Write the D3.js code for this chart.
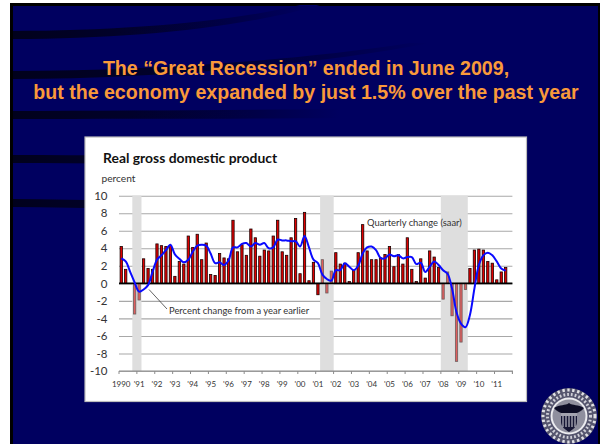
<!DOCTYPE html>
<html>
<head>
<meta charset="utf-8">
<script src="https://cdn.jsdelivr.net/npm/d3@7"></script>
<style>
html,body{margin:0;padding:0;background:#fff;}
svg{display:block;}
</style>
</head>
<body>
<svg id="slide" width="600" height="444"></svg>
<script>
// Quarterly GDP growth, saar, 1990Q1 to 2011Q3
const quarterly = [
  4.2,1.6,0.0,-3.5, -1.9,2.8,1.7,1.6, 4.5,4.3,4.2,4.3, 0.8,2.5,2.2,5.4,
  4.1,5.6,2.7,4.6, 1.0,0.9,3.4,2.9, 2.8,7.2,3.6,4.4, 3.2,6.2,5.2,3.1,
  3.8,3.7,5.4,7.2, 3.6,3.2,5.2,7.4, 1.1,8.1,0.3,2.4, -1.3,2.7,-1.1,1.4,
  3.5,2.2,2.3,0.2, 1.5,3.5,6.7,3.7, 2.7,2.7,2.9,3.3, 4.2,1.9,3.3,2.2,
  5.2,1.6,0.2,2.8, 0.6,3.7,3.0,1.8, -1.8,1.3,-3.7,-8.9, -6.7,-0.7,1.7,3.8,
  3.9,3.8,2.5,2.3, 0.4,1.3,1.8
];
// Percent change from a year earlier, same quarters
const yearOverYear = [
  2.85,2.5,1.3,0.1, -0.95,-0.7,-0.2,1.3, 2.7,3.2,3.8,4.4, 3.3,2.8,2.4,2.7,
  3.6,4.3,4.4,4.3, 3.4,2.3,2.4,2.1, 2.6,4.1,4.1,4.5, 4.6,4.2,4.6,4.4,
  4.6,4.0,4.1,5.0, 4.9,4.9,4.8,4.8, 4.2,5.4,4.1,2.7, 2.3,1.0,0.5,0.3,
  1.5,1.5,2.3,1.9, 1.5,2.0,3.4,4.1, 4.2,3.8,2.9,2.85, 3.3,3.1,3.2,2.85,
  3.0,3.0,2.2,2.35, 1.3,1.9,2.5,2.1, 1.5,1.1,-0.6,-3.3, -4.6,-5.0,-3.6,-0.6,
  2.1,3.2,3.5,3.2, 2.5,1.7,1.45
];
const years = d3.range(1990, 2012);
const quarterNames = years.flatMap(y => [1,2,3,4].map(q => y + "Q" + q));
const yearLabels = ["1990","'91","'92","'93","'94","'95","'96","'97","'98","'99","'00","'01","'02","'03","'04","'05","'06","'07","'08","'09","'10","'11"];
const recessions = [["1990Q4","1991Q1"],["2001Q2","2001Q4"],["2008Q1","2009Q2"]];
const yTicks = [10,8,6,4,2,0,-2,-4,-6,-8,-10];

const svg = d3.select("#slide");
const defs = svg.append("defs");

// Slide background: navy field, black rule on the left and top, fading dark swooshes
svg.append("rect").attr("x",10).attr("y",3).attr("width",590).attr("height",441).attr("fill","#000");
svg.append("rect").attr("x",13).attr("y",6).attr("width",585).attr("height",438).attr("fill","#000060");

const swooshes = [
  {id:"sw1", end:310, d:"M13,31 C120,31 230,22 300,5 L320,5 C240,28 130,39 13,39 Z"},
  {id:"sw2", end:430, d:"M13,71 C150,71 300,60 410,43 L430,43 C310,66 150,79 13,79 Z"},
  {id:"sw3", end:340, d:"M13,111 C120,111 240,110 340,109 L340,118 C240,119 120,119 13,119 Z"},
  {id:"sw4", end:300, d:"M13,155 C100,155 200,156 300,158 L300,166 C200,165 100,163 13,163 Z"},
  {id:"sw5", end:300, d:"M13,199 C100,200 200,202 300,204 L300,212 C200,210 100,208 13,207 Z"}
];
swooshes.forEach(s => {
  const g = defs.append("linearGradient").attr("id",s.id)
    .attr("gradientUnits","userSpaceOnUse").attr("x1",13).attr("x2",s.end).attr("y1",0).attr("y2",0);
  g.append("stop").attr("offset",0).attr("stop-color","#01011c");
  g.append("stop").attr("offset",0.35).attr("stop-color","#01012a");
  g.append("stop").attr("offset",0.75).attr("stop-color","#000048");
  g.append("stop").attr("offset",1).attr("stop-color","#000060");
  svg.append("path").attr("d",s.d).attr("fill","url(#"+s.id+")");
});

// Slide headline
const headline = svg.append("g")
  .attr("font-family","'Liberation Sans',Arial,sans-serif")
  .attr("font-weight","bold").attr("font-size",19.6)
  .attr("fill","#f9993a").attr("text-anchor","middle");
headline.append("text").attr("x",306).attr("y",75).text("The \u201CGreat Recession\u201D ended in June 2009,");
headline.append("text").attr("x",306).attr("y",98.5).text("but the economy expanded by just 1.5% over the past year");

// Chart panel
svg.append("rect").attr("x",85).attr("y",137).attr("width",441.5).attr("height",264.5)
  .attr("fill","#fff").attr("stroke","#bdbdbd").attr("stroke-width",1.2);

const chartFont = "Lato,'Open Sans',sans-serif";
svg.append("text").attr("x",103).attr("y",162.5)
  .attr("font-family",chartFont).attr("font-weight","bold").attr("font-size",13.9)
  .attr("fill","#111").text("Real gross domestic product");
svg.append("text").attr("x",101.5).attr("y",181.5)
  .attr("font-family",chartFont).attr("font-size",10.2)
  .attr("fill","#333").text("percent");

const x = d3.scaleBand().domain(quarterNames).range([119,512.4]);
const y = d3.scaleLinear().domain([-10,10]).range([371,195.7]);

// Gridlines and value labels, written with a plain hyphen for negatives
const yAxis = svg.append("g").attr("transform","translate(119,0)")
  .call(d3.axisLeft(y).tickValues(yTicks).tickSize(-393.4).tickPadding(11.5).tickFormat(String));
yAxis.select(".domain").remove();
yAxis.selectAll(".tick line").attr("stroke","#a8a8a8").attr("stroke-width",1.1);
yAxis.selectAll(".tick text").attr("font-family",chartFont).attr("font-size",11.5).attr("fill","#333");

// Recession bands: a solid layer that hides the gridlines, and a wash over the bars
function drawBands(opacity) {
  svg.append("g").selectAll("rect").data(recessions).join("rect")
    .attr("x",d => x(d[0]))
    .attr("y",y(10))
    .attr("width",d => x(d[1]) + x.bandwidth() - x(d[0]))
    .attr("height",y(-10)-y(10))
    .attr("fill","#dedede").attr("fill-opacity",opacity);
}
drawBands(1);

// Quarterly bars
const barWidth = 2.3;
svg.append("g").selectAll("rect").data(quarterly).join("rect")
  .attr("x",(d,i) => x(quarterNames[i]) + (x.bandwidth()-barWidth)/2)
  .attr("y",d => y(Math.max(d,0)))
  .attr("width",barWidth)
  .attr("height",d => Math.abs(y(d)-y(0)))
  .attr("fill","#e00000").attr("stroke","#1a0000").attr("stroke-width",0.8);

drawBands(0.42);

// Time axis: ticks on the year boundaries, labels under each year's first quarter
const firstQuarters = quarterNames.filter(q => q.endsWith("Q1"));
const xAxis = svg.append("g").attr("transform","translate(0,"+y(-10)+")")
  .call(d3.axisBottom(x).tickValues(firstQuarters).tickSize(3).tickPadding(7)
    .tickFormat((q,i) => yearLabels[i]));
xAxis.select(".domain").attr("stroke","#8c8c8c").attr("stroke-width",1.1)
  .attr("d","M119,0H512.4V3");
xAxis.selectAll(".tick line").attr("x1",-x.bandwidth()/2).attr("x2",-x.bandwidth()/2).attr("stroke","#8c8c8c");
xAxis.selectAll(".tick text").attr("font-family",chartFont).attr("font-size",8).attr("fill","#333");

// Zero line
svg.append("line").attr("x1",119).attr("x2",512.4).attr("y1",y(0)).attr("y2",y(0))
  .attr("stroke","#000").attr("stroke-width",1.7);

// Year-over-year line
const line = d3.line()
  .x((d,i) => x(quarterNames[i]) + x.bandwidth()/2)
  .y(d => y(d))
  .curve(d3.curveCatmullRom.alpha(0.5));
svg.append("path").attr("d",line(yearOverYear)).attr("fill","none")
  .attr("stroke","#0a0aff").attr("stroke-width",2);

// Series annotations
svg.append("text").attr("x",367).attr("y",226).attr("font-family",chartFont)
  .attr("font-size",9.4).attr("fill","#333").text("Quarterly change (saar)");
svg.append("text").attr("x",169).attr("y",314).attr("font-family",chartFont)
  .attr("font-size",9.4).attr("fill","#333").text("Percent change from a year earlier");
svg.append("line").attr("x1",149).attr("y1",289.5).attr("x2",167).attr("y2",309)
  .attr("stroke","#222").attr("stroke-width",0.7);

// Federal Reserve style seal in the corner
defs.append("filter").attr("id","soft").append("feGaussianBlur").attr("stdDeviation",0.7);
const seal = svg.append("g").attr("transform","translate(569,416)").attr("filter","url(#soft)");
seal.append("circle").attr("r",28).attr("fill","#55556e");
seal.append("circle").attr("r",26).attr("fill","none").attr("stroke","#e0e0e4").attr("stroke-width",3).attr("stroke-dasharray","2.4 2.6");
seal.append("circle").attr("r",21.5).attr("fill","none").attr("stroke","#d0d0d8").attr("stroke-width",3).attr("stroke-dasharray","1.8 2");
seal.append("circle").attr("r",18.5).attr("fill","#ececf0");
seal.append("circle").attr("r",16.5).attr("fill","#8f8f9e");
seal.append("path").attr("d","M-15,-8 C-9,-12 -4,-10 0,-13 C4,-10 9,-12 15,-8 C10,-2 6,-3 0,-2 C-6,-3 -10,-2 -15,-8 Z").attr("fill","#101028");
seal.append("path").attr("d","M-8,-3 H8 V6 C8,11 3,14 0,16 C-3,14 -8,11 -8,6 Z").attr("fill","#181834");
seal.selectAll(".bar").data(d3.range(-6,7,3)).join("rect")
  .attr("x",d => d-0.6).attr("y",0).attr("width",1.2).attr("height",11).attr("fill","#b8b8c4");
seal.append("rect").attr("x",-8).attr("y",-3).attr("width",16).attr("height",3).attr("fill","#a4a4b0");
</script>
</body>
</html>
